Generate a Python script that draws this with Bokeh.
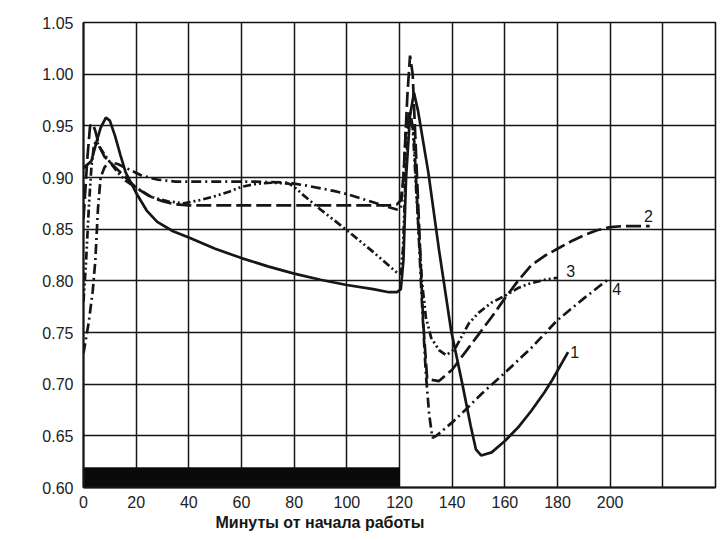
from bokeh.plotting import figure
from bokeh.models import FixedTicker, Label, Range1d, Title
from bokeh.embed import file_html
from bokeh.resources import INLINE

# ---- data (minutes from start of work, relative value) ----
t1 = [0, 3, 5, 6.5, 8.5, 10, 12, 14, 16, 18, 20, 24, 28, 34, 40, 50, 60, 70, 80, 90, 100, 110, 116, 119,
      120.5, 121.5, 122.5, 124, 125.5, 127, 131, 135, 139.6, 143.8, 147, 149, 151, 155, 160, 165, 170,
      175, 178, 184]
v1 = [0.909, 0.916, 0.935, 0.948, 0.958, 0.955, 0.94, 0.922, 0.905, 0.895, 0.885, 0.868, 0.857, 0.848,
      0.842, 0.831, 0.822, 0.814, 0.807, 0.801, 0.796, 0.792, 0.789, 0.789,
      0.792, 0.82, 0.9, 0.96, 0.982, 0.965, 0.904, 0.83, 0.752, 0.701, 0.66, 0.637, 0.631, 0.634, 0.645,
      0.658, 0.674, 0.692, 0.704, 0.731]

t2 = [0, 1.5, 2.5, 3.5, 4.5, 6, 8, 12, 16, 20, 25, 30, 35, 40, 80, 116, 119, 120.5, 121.5, 123, 124, 125,
      126, 127.5, 129, 130.5, 135, 140, 145, 150, 155, 160, 165, 170, 175, 180, 185, 190, 195, 200, 205, 215]
v2 = [0.86, 0.92, 0.95, 0.952, 0.945, 0.93, 0.92, 0.91, 0.9, 0.89, 0.882, 0.877, 0.874, 0.873, 0.873,
      0.873, 0.874, 0.878, 0.9, 0.98, 1.018, 1.0, 0.94, 0.85, 0.76, 0.705, 0.703, 0.714, 0.731, 0.748,
      0.765, 0.783, 0.8, 0.815, 0.824, 0.831, 0.838, 0.844, 0.849, 0.852, 0.853, 0.853]

t3 = [0, 1, 2, 3, 4, 5, 6, 8, 10, 13, 16, 20, 26, 32, 38, 44, 50, 55, 60, 66, 72, 78, 80, 83, 90, 100,
      110, 119, 120.3, 121.3, 122.3, 123.5, 125, 126.5, 128.5, 130, 132, 135, 137.7, 141, 146.4, 150,
      155, 160.4, 165, 169, 175, 180]
v3 = [0.78, 0.82, 0.87, 0.91, 0.932, 0.935, 0.93, 0.922, 0.915, 0.905, 0.897, 0.89, 0.881, 0.877, 0.875,
      0.878, 0.882, 0.886, 0.891, 0.894, 0.895, 0.894, 0.891, 0.884, 0.869, 0.849,
      0.828, 0.808, 0.806, 0.83, 0.9, 0.96, 0.95, 0.88, 0.8, 0.765, 0.745, 0.733, 0.728, 0.734, 0.759,
      0.769, 0.779, 0.786, 0.793, 0.797, 0.801, 0.803]

t4 = [0, 2, 3.5, 4.5, 5.5, 6.5, 8, 10, 13, 18, 22, 28, 35, 50, 65, 78, 85, 95, 100, 110, 115, 119, 120.5,
      121.5, 122.5, 124, 125.5, 127, 128.5, 130, 131.3, 132.5, 134, 140, 145, 151.3, 160, 170, 180, 190,
      199.5]
v4 = [0.73, 0.76, 0.79, 0.82, 0.87, 0.9, 0.91, 0.915, 0.913, 0.907, 0.902, 0.898, 0.896, 0.896, 0.896,
      0.895, 0.892, 0.887, 0.884, 0.876, 0.872, 0.869, 0.87, 0.9, 0.95, 0.965, 0.94, 0.86, 0.78, 0.71,
      0.67, 0.648, 0.65, 0.663, 0.675, 0.691, 0.711, 0.735, 0.762, 0.783, 0.802]

work_period = [0, 120]          # black bar: working time
bar_level = [0.60, 0.619]

curve_names = ["1", "2", "3", "4"]
curve_label_x = [186.5, 214.5, 185.0, 202.5]
curve_label_y = [0.731, 0.863, 0.81, 0.7925]

x_ticks = [0, 20, 40, 60, 80, 100, 120, 140, 160, 180, 200]
x_grid = [0, 20, 40, 60, 80, 100, 120, 140, 160, 180, 200, 220, 240]
y_ticks = [0.60, 0.65, 0.70, 0.75, 0.80, 0.85, 0.90, 0.95, 1.00, 1.05]
y_tick_labels = {v: f"{v:.2f}" for v in y_ticks}
x_title = "Минуты от начала работы"

# ---- figure ----
p = figure(width=718, height=538, output_backend="svg", toolbar_location=None,
           x_range=Range1d(0, 240), y_range=Range1d(0.60, 1.05),
           min_border_left=83, min_border_right=3, min_border_top=22, min_border_bottom=51)
p.background_fill_color = "white"
p.border_fill_color = "white"
p.outline_line_color = "#111111"
p.outline_line_width = 1.6

FONT = "Liberation Sans"
INK = "#161616"

p.xaxis.ticker = FixedTicker(ticks=x_ticks)
p.yaxis.ticker = FixedTicker(ticks=y_ticks)
p.yaxis.major_label_overrides = y_tick_labels
p.xgrid.ticker = FixedTicker(ticks=x_grid)
p.ygrid.ticker = FixedTicker(ticks=y_ticks)
for g in (p.xgrid, p.ygrid):
    g.grid_line_color = INK
    g.grid_line_width = 1.5
    g.grid_line_alpha = 1.0

for ax in (p.xaxis, p.yaxis):
    ax.major_tick_line_color = None
    ax.minor_tick_line_color = None
    ax.major_tick_in = 0
    ax.major_tick_out = 0
    ax.axis_line_color = INK
    ax.axis_line_width = 2
    ax.major_label_text_font = FONT
    ax.major_label_text_font_size = "16px"
    ax.major_label_text_color = "#222222"
p.yaxis.major_label_standoff = 10
p.xaxis.major_label_standoff = 8

# black bar along the bottom for the working period
p.quad(left=[work_period[0]], right=[work_period[1]], bottom=[bar_level[0]], top=[bar_level[1]],
       fill_color="#0a0a0a", line_color="#0a0a0a")

LW = 2.7
p.line(t1, v1, line_color=INK, line_width=LW)
p.line(t2, v2, line_color=INK, line_width=LW, line_dash="15 5")
p.line(t3, v3, line_color=INK, line_width=LW, line_dash="8 3 2 3 2 3")
p.line(t4, v4, line_color=INK, line_width=LW, line_dash="10 4 2 4")

for name, lx, ly in zip(curve_names, curve_label_x, curve_label_y):
    p.add_layout(Label(x=lx, y=ly, text=name, text_font=FONT, text_font_size="16px",
                       text_color=INK, text_align="center", text_baseline="middle"))

p.add_layout(Title(text=x_title, align="left", offset=132, text_font=FONT,
                   text_font_size="16px", text_font_style="bold", text_color=INK,
                   standoff=3), "below")

open("out.html", "w").write(file_html(p, INLINE))
